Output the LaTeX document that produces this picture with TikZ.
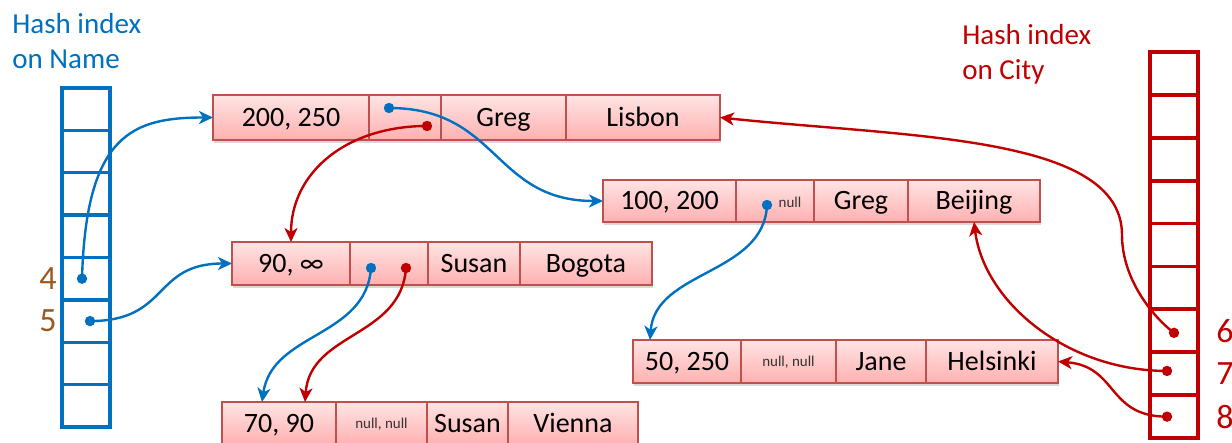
\documentclass[tikz,border=0pt]{standalone}
\usepackage{fontspec}
\setmainfont{Carlito}
\usetikzlibrary{arrows.meta, positioning, shadows}
\definecolor{nameblue}{RGB}{0,112,192}
\definecolor{cityred}{RGB}{192,0,0}
\definecolor{idxbrown}{RGB}{156,87,28}
\definecolor{fieldline}{RGB}{192,80,77}
\definecolor{fieldtop}{RGB}{255,228,228}
\definecolor{fieldbot}{RGB}{255,176,176}
\tikzstyle{field} = [rectangle, draw=fieldline, line width=0.8pt, top color=fieldtop, bottom color=fieldbot, inner sep=0pt, outer sep=0pt, minimum height=21.5pt, text height=10pt, text depth=1pt, font=\fontsize{14}{16}\selectfont, drop shadow={opacity=0.3, shadow xshift=0.4pt, shadow yshift=-1.6pt}]
\tikzstyle{nullval} = [font=\fontsize{7.5}{9}\selectfont, text=black!80, text height=5pt, text depth=0pt]
\tikzstyle{nameslot} = [rectangle, draw=nameblue, line width=1.7pt, minimum width=24pt, minimum height=21.19pt, inner sep=0pt, outer sep=0pt]
\tikzstyle{cityslot} = [rectangle, draw=cityred, line width=1.9pt, minimum width=24pt, minimum height=21.45pt, inner sep=0pt, outer sep=0pt]
\tikzstyle{idx} = [inner sep=0pt, font=\fontsize{17}{20}\selectfont]
\tikzstyle{idxtitle} = [inner sep=0pt, align=left, anchor=north west, font=\fontsize{14.5}{17.5}\selectfont]
\tikzstyle{blueptr} = [draw=nameblue, line width=1.2pt, -{Stealth[length=7pt, width=6.5pt, inset=2pt]}]
\tikzstyle{redptr} = [draw=cityred, line width=1.2pt, -{Stealth[length=7pt, width=6.5pt, inset=2pt]}]

\begin{document}
\begin{tikzpicture}[x=0.5pt, y=-0.5pt]
\useasboundingbox (0,0) rectangle (1232,443);
\node(ttlname)[idxtitle, text=nameblue] at (12,13) {Hash index\\on Name};
\node(ttlcity)[idxtitle, text=cityred] at (962,24) {Hash index\\on City};
\foreach \i in {0,...,7}
  \node(hn\i)[nameslot] at (86,{109.2+42.375*\i}) {};
\foreach \i in {0,...,8}
  \node(hc\i)[cityslot] at (1174,{73.45+42.9*\i}) {};
\node(lab4)[idx, text=idxbrown, left=2.5pt of hn4]{4};
\node(lab5)[idx, text=idxbrown, left=2.5pt of hn5]{5};
\node(lab6)[idx, text=cityred, right=9pt of hc6]{6};
\node(lab7)[idx, text=cityred, right=9pt of hc7]{7};
\node(lab8)[idx, text=cityred, right=9pt of hc8]{8};

\node(rec1a)[field, minimum width=78pt, minimum height=22.5pt, anchor=west] at (213,117.5) {200, 250};
\node(rec1b)[field, minimum width=36pt, minimum height=22.5pt, right=0pt of rec1a] {};
\node(rec1c)[field, minimum width=62.5pt, minimum height=22.5pt, right=0pt of rec1b] {Greg};
\node(rec1d)[field, minimum width=77pt, minimum height=22.5pt, right=0pt of rec1c] {Lisbon};

\node(rec2a)[field, minimum width=66.5pt, minimum height=21pt, anchor=west] at (603,201) {100, 200};
\node(rec2b)[field, minimum width=39pt, minimum height=21pt, right=0pt of rec2a] {};
\node(rec2c)[field, minimum width=47pt, minimum height=21pt, right=0pt of rec2b] {Greg};
\node(rec2d)[field, minimum width=66pt, minimum height=21pt, right=0pt of rec2c] {Beijing};
\node(nul2)[nullval] at (790,203) {null};

\node(rec3a)[field, minimum width=59pt, anchor=west] at (232,263.5) {90, ∞};
\node(rec3b)[field, minimum width=39pt, right=0pt of rec3a] {};
\node(rec3c)[field, minimum width=46pt, right=0pt of rec3b] {Susan};
\node(rec3d)[field, minimum width=66pt, right=0pt of rec3c] {Bogota};

\node(rec4a)[field, minimum width=57pt, anchor=west] at (222,423.5) {70, 90};
\node(rec4b)[field, nullval, minimum width=45.5pt, right=0pt of rec4a] {null, null};
\node(rec4c)[field, minimum width=40.5pt, right=0pt of rec4b] {Susan};
\node(rec4d)[field, minimum width=65pt, right=0pt of rec4c] {Vienna};

\node(rec5a)[field, minimum width=54pt, anchor=west] at (633,361.5) {50, 250};
\node(rec5b)[field, nullval, minimum width=47.5pt, right=0pt of rec5a] {null, null};
\node(rec5c)[field, minimum width=45pt, right=0pt of rec5b] {Jane};
\node(rec5d)[field, minimum width=66pt, right=0pt of rec5c] {Helsinki};

\coordinate(d4) at ([xshift=-2pt]hn4.center);
\coordinate(d5) at ([xshift=2pt]hn5.center);
\coordinate(d6) at ([yshift=-1pt]hc6.center);
\coordinate(d7) at ([xshift=-3.5pt, yshift=1.4pt]hc7.center);
\coordinate(d8) at ([xshift=-3.5pt]hc8.center);
\coordinate(p1b) at (389,108);
\coordinate(p1r) at (427,126);
\coordinate(p2b) at (767,205);
\coordinate(p3b) at (371,268);
\coordinate(p3r) at (406,268);
\coordinate(bend6) at (1122,235);

\foreach \c in {d4,d5,p1b,p2b,p3b}
  \fill[nameblue] (\c) circle (2.6pt);
\foreach \c in {d6,d7,d8,p1r,p3r}
  \fill[cityred] (\c) circle (2.6pt);

\draw[blueptr] (d4) .. controls +(4,-145) and +(-80,0) .. (rec1a.west);
\draw[blueptr] (d5) .. controls +(80,0) and +(-80,0) .. (rec3a.west);
\draw[blueptr] (p1b) .. controls +(110,0) and +(-110,0) .. (rec2a.west);
\draw[blueptr] (p3b) .. controls +(-5,70) and +(10,-70) .. ([xshift=-8.5pt]rec4a.north);
\draw[blueptr] (p2b) .. controls +(-3,70) and +(5,-70) .. ([xshift=-18.5pt]rec5a.north);
\draw[redptr] (p1r) .. controls +(-80,0) and +(0,-70) .. (rec3a.north);
\draw[redptr] (p3r) .. controls +(-5,70) and +(5,-70) .. ([xshift=13pt]rec4a.north);
\draw[redptr] (d6) .. controls +(-20,-15) and +(0,45) .. (bend6) .. controls +(0,-100) and +(190,20) .. (rec1d.east);
\draw[redptr] (d7) .. controls +(-100,0) and +(10,80) .. (rec2d.south);
\draw[redptr] (d8) .. controls +(-60,0) and +(60,5) .. (rec5d.east);
\end{tikzpicture}
\end{document}
